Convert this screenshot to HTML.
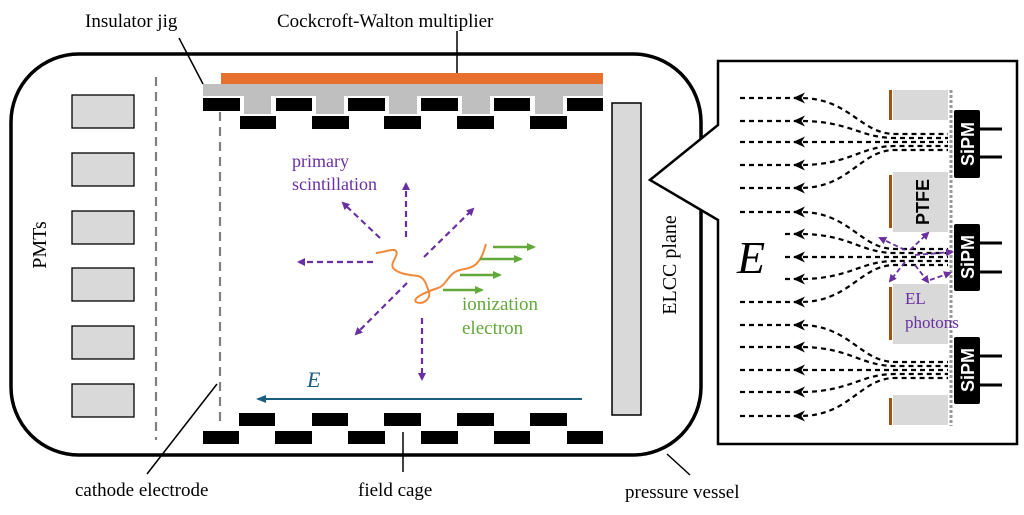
<!DOCTYPE html>
<html><head><meta charset="utf-8"><style>
html,body{margin:0;padding:0;background:#fff;width:1024px;height:515px;overflow:hidden}
svg{display:block}
text{font-family:"Liberation Serif",serif}
text.sans{font-family:"Liberation Sans",sans-serif;font-weight:bold}
</style></head><body>
<svg width="1024" height="515" viewBox="0 0 1024 515" xmlns="http://www.w3.org/2000/svg">
<defs>
<marker id="pa" markerWidth="8" markerHeight="8" refX="6" refY="4" orient="auto" markerUnits="userSpaceOnUse"><path d="M0,0 L8,4 L0,8 Z" fill="#6a2fa0"/></marker>
<marker id="ga" markerWidth="9" markerHeight="8" refX="7" refY="4" orient="auto" markerUnits="userSpaceOnUse"><path d="M0,0 L9,4 L0,8 Z" fill="#62a83a"/></marker>
<marker id="ba" markerWidth="10" markerHeight="8" refX="8" refY="4" orient="auto" markerUnits="userSpaceOnUse"><path d="M0,0 L10,4 L0,8 Z" fill="#1b5e7e"/></marker>
</defs>
<!-- vessel -->
<rect x="11" y="54" width="690" height="401" rx="68" ry="68" fill="none" stroke="#000" stroke-width="3.5"/>
<!-- PMTs -->
<g fill="#d9d9d9" stroke="#000" stroke-width="1.3">
<rect x="72" y="95" width="62" height="33"/><rect x="72" y="153" width="62" height="33"/><rect x="72" y="211" width="62" height="33"/><rect x="72" y="268" width="62" height="33"/><rect x="72" y="326" width="62" height="33"/><rect x="72" y="384" width="62" height="33"/>
</g>
<text transform="translate(46,245) rotate(-90)" font-size="20" text-anchor="middle">PMTs</text>
<line x1="156" y1="77" x2="156" y2="440" stroke="#808080" stroke-width="2.2" stroke-dasharray="9,6"/>
<line x1="220" y1="112" x2="220" y2="422" stroke="#808080" stroke-width="2.2" stroke-dasharray="9,6"/>
<!-- top -->
<rect x="221" y="73" width="382" height="11" fill="#e8702f"/>
<rect x="203" y="84" width="400" height="12" fill="#bfbfbf"/>
<g fill="#bfbfbf"><rect x="244" y="96" width="27" height="18"/><rect x="316" y="96" width="28" height="18"/><rect x="389" y="96" width="28" height="18"/><rect x="462" y="96" width="28" height="18"/><rect x="535" y="96" width="28" height="18"/></g>
<g fill="#000">
<rect x="203" y="98" width="37" height="13"/><rect x="276" y="98" width="36" height="13"/><rect x="348" y="98" width="37" height="13"/><rect x="421" y="98" width="37" height="13"/><rect x="494" y="98" width="36" height="13"/><rect x="567" y="98" width="36" height="13"/>
<rect x="240" y="116" width="36" height="13"/><rect x="312" y="116" width="37" height="13"/><rect x="384" y="116" width="37" height="13"/><rect x="457" y="116" width="37" height="13"/><rect x="530" y="116" width="37" height="13"/>
<rect x="239" y="413" width="36" height="13"/><rect x="312" y="413" width="36" height="13"/><rect x="384" y="413" width="37" height="13"/><rect x="457" y="413" width="37" height="13"/><rect x="530" y="413" width="37" height="13"/>
<rect x="203" y="431" width="36" height="13"/><rect x="275" y="431" width="37" height="13"/><rect x="348" y="431" width="37" height="13"/><rect x="421" y="431" width="37" height="13"/><rect x="494" y="431" width="36" height="13"/><rect x="567" y="431" width="36" height="13"/>
</g>
<!-- ELCC -->
<rect x="612" y="103" width="29" height="312" fill="#d9d9d9" stroke="#000" stroke-width="1.5"/>
<text transform="translate(676,265) rotate(-90)" font-size="20" text-anchor="middle">ELCC plane</text>
<!-- E field -->
<line x1="582" y1="399" x2="258" y2="399" stroke="#1b5e7e" stroke-width="2" marker-end="url(#ba)"/>
<text x="307" y="387" font-size="22" font-style="italic" fill="#1b5e7e">E</text>
<!-- primary scint -->
<g stroke="#6a2fa0" stroke-width="2.2" stroke-dasharray="6,4" marker-end="url(#pa)">
<line x1="406" y1="237" x2="406" y2="184"/>
<line x1="380" y1="238" x2="343" y2="203"/>
<line x1="424" y1="257" x2="473" y2="209"/>
<line x1="373" y1="262" x2="299" y2="262"/>
<line x1="407" y1="283" x2="356" y2="334"/>
<line x1="422" y1="318" x2="422" y2="379"/>
</g>
<text font-size="18" fill="#6a2fa0"><tspan x="292" y="167">primary</tspan><tspan x="292" y="190">scintillation</tspan></text>
<path d="M376,253 C385,252 394,248 396,251 C399,256 390,262 393,268 C398,274 410,275 418,276 C426,278 427,288 429,292 C431,300 422,305 416,302 C412,298 426,292 438,288 C446,285 447,277 455,272 C462,268 472,270 478,262 C483,256 484,250 486,244" fill="none" stroke="#f08a3a" stroke-width="2"/>
<g stroke="#62a83a" stroke-width="2.5" marker-end="url(#ga)">
<line x1="493" y1="247" x2="534" y2="247"/><line x1="480" y1="259" x2="521" y2="259"/><line x1="460" y1="275" x2="500" y2="275"/><line x1="443" y1="290" x2="482" y2="290"/>
</g>
<text font-size="19" fill="#62a83a"><tspan x="462" y="310">ionization</tspan><tspan x="462" y="334">electron</tspan></text>
<!-- callout panel -->
<path d="M718,61 L1017,61 L1017,444 L718,444 L718,220 L650,180 L718,125 Z" fill="#fff" stroke="#000" stroke-width="2.5"/>
<!-- field lines -->
<g fill="none" stroke="#000" stroke-width="2.2" stroke-dasharray="5,4">
<path d="M740,98 H800 C850,98 860,134 895,134 H948"/>
<path d="M740,121 H800 C850,121 860,138 895,138 H948"/>
<path d="M740,142 H948"/>
<path d="M740,165 H800 C850,165 860,146 895,146 H948"/>
<path d="M740,188 H800 C850,188 860,150 895,150 H948"/>
<path d="M740,212 H800 C850,212 860,249 895,249 H948"/>
<path d="M785,234 H800 C850,234 860,253 895,253 H948"/>
<path d="M785,257 H948"/>
<path d="M785,279 H800 C850,279 860,261 895,261 H948"/>
<path d="M740,302 H800 C850,302 860,265 895,265 H948"/>
<path d="M740,325 H800 C850,325 860,362 895,362 H948"/>
<path d="M740,347 H800 C850,347 860,366 895,366 H948"/>
<path d="M740,370 H948"/>
<path d="M740,392 H800 C850,392 860,374 895,374 H948"/>
<path d="M740,416 H800 C850,416 860,378 895,378 H948"/>
</g>
<g fill="#000">
<path d="M793,98 l12,-5.5 l-3.5,5.5 l3.5,5.5z"/><path d="M793,121 l12,-5.5 l-3.5,5.5 l3.5,5.5z"/><path d="M793,142 l12,-5.5 l-3.5,5.5 l3.5,5.5z"/><path d="M793,165 l12,-5.5 l-3.5,5.5 l3.5,5.5z"/><path d="M793,188 l12,-5.5 l-3.5,5.5 l3.5,5.5z"/>
<path d="M793,212 l12,-5.5 l-3.5,5.5 l3.5,5.5z"/><path d="M793,234 l12,-5.5 l-3.5,5.5 l3.5,5.5z"/><path d="M793,257 l12,-5.5 l-3.5,5.5 l3.5,5.5z"/><path d="M793,279 l12,-5.5 l-3.5,5.5 l3.5,5.5z"/><path d="M793,302 l12,-5.5 l-3.5,5.5 l3.5,5.5z"/>
<path d="M793,325 l12,-5.5 l-3.5,5.5 l3.5,5.5z"/><path d="M793,347 l12,-5.5 l-3.5,5.5 l3.5,5.5z"/><path d="M793,370 l12,-5.5 l-3.5,5.5 l3.5,5.5z"/><path d="M793,392 l12,-5.5 l-3.5,5.5 l3.5,5.5z"/><path d="M793,416 l12,-5.5 l-3.5,5.5 l3.5,5.5z"/>
</g>
<text x="737" y="273" font-size="46" font-style="italic">E</text>
<!-- PTFE & SiPM -->
<g fill="#d9d9d9"><rect x="893" y="90" width="55" height="30"/><rect x="893" y="172" width="55" height="60"/><rect x="893" y="284" width="55" height="60"/><rect x="893" y="395" width="55" height="30"/></g>
<g fill="#a0520f"><rect x="889" y="90" width="3" height="30"/><rect x="889" y="175" width="3" height="53"/><rect x="889" y="287" width="3" height="53"/><rect x="889" y="398" width="3" height="27"/></g>
<line x1="951" y1="90" x2="951" y2="426" stroke="#999" stroke-width="3" stroke-dasharray="3,2"/>
<text class="sans" transform="translate(929,202) rotate(-90)" font-size="18" text-anchor="middle">PTFE</text>
<g fill="#000"><rect x="954" y="110" width="26" height="68" rx="2"/><rect x="954" y="224" width="26" height="67" rx="2"/><rect x="954" y="337" width="26" height="67" rx="2"/></g>
<g stroke="#000" stroke-width="3"><line x1="970" y1="129" x2="1002" y2="129"/><line x1="970" y1="157" x2="1002" y2="157"/><line x1="970" y1="243" x2="1002" y2="243"/><line x1="970" y1="272" x2="1002" y2="272"/><line x1="970" y1="356" x2="1002" y2="356"/><line x1="970" y1="385" x2="1002" y2="385"/></g>
<g fill="#fff" font-size="18" text-anchor="middle">
<text class="sans" transform="translate(974,144) rotate(-90)">SiPM</text><text class="sans" transform="translate(974,257) rotate(-90)">SiPM</text><text class="sans" transform="translate(974,370) rotate(-90)">SiPM</text></g>
<g stroke="#6a2fa0" stroke-width="1.8" stroke-dasharray="5,3" marker-end="url(#pa)">
<line x1="905" y1="250" x2="880" y2="238"/><line x1="910" y1="250" x2="928" y2="233"/><line x1="915" y1="255" x2="952" y2="252"/>
<line x1="905" y1="262" x2="890" y2="281"/><line x1="915" y1="265" x2="928" y2="282"/><line x1="930" y1="280" x2="950" y2="273"/>
</g>
<text font-size="17" fill="#6a2fa0"><tspan x="905" y="304">EL</tspan><tspan x="905" y="328">photons</tspan></text>
<!-- labels -->
<g font-size="19">
<text x="85" y="27">Insulator jig</text>
<text x="277" y="27">Cockcroft-Walton multiplier</text>
<text x="75" y="496">cathode electrode</text>
<text x="358" y="496">field cage</text>
<text x="625" y="498">pressure vessel</text>
</g>
<g stroke="#000" stroke-width="1.5">
<line x1="179" y1="38" x2="203" y2="84"/>
<line x1="457" y1="31" x2="457" y2="73"/>
<line x1="147" y1="474" x2="217" y2="384"/>
<line x1="403" y1="432" x2="403" y2="472"/>
<line x1="667" y1="454" x2="690" y2="475"/>
</g>
</svg>
</body></html>
